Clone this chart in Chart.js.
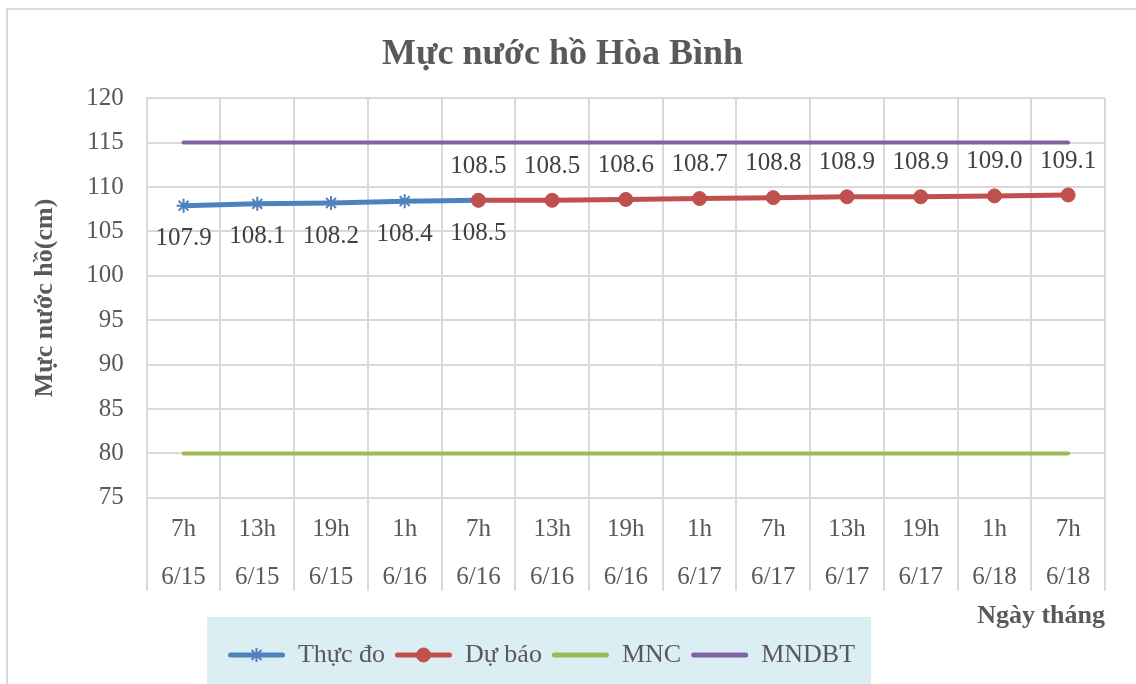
<!DOCTYPE html>
<html lang="vi">
<head>
<meta charset="UTF-8">
<title>Mực nước hồ Hòa Bình</title>
<style>
    * { margin: 0; padding: 0; box-sizing: border-box; }
    body { background: #ffffff; width: 1136px; height: 684px; overflow: hidden; }
    .wrap { position: relative; width: 1136px; height: 684px; }
</style>
</head>
<body>
<div class="wrap"><canvas id="chart" width="1136" height="684"></canvas></div>

<script src="https://cdn.jsdelivr.net/npm/chart.js"></script>
<script>
    // data
    const hours = ['7h', '13h', '19h', '1h', '7h', '13h', '19h', '1h', '7h', '13h', '19h', '1h', '7h'];
    const days = ['6/15', '6/15', '6/15', '6/16', '6/16', '6/16', '6/16', '6/17', '6/17', '6/17', '6/17', '6/18', '6/18'];
    const thucDo = [107.9, 108.1, 108.2, 108.4, 108.5, null, null, null, null, null, null, null, null];
    const duBao = [null, null, null, null, 108.5, 108.5, 108.6, 108.7, 108.8, 108.9, 108.9, 109.0, 109.1];
    const mnc = [80, 80, 80, 80, 80, 80, 80, 80, 80, 80, 80, 80, 80];
    const mndbt = [115, 115, 115, 115, 115, 115, 115, 115, 115, 115, 115, 115, 115];
    const yMin = 75, yMax = 120, yStep = 5;

    const labels = hours.map((h, i) => [h, days[i]]);
    const SERIF = '"Liberation Serif", "Times New Roman", serif';
    const GRID = '#D9D9D9';
    const TEXT = '#595959';

    // white page + thin outer frame + legend background
    const framePlugin = {
        id: 'frame',
        afterLayout(chart) {
            // legend sits a little left of centre in the original
            if (chart.legend) { chart.legend.left -= 21; chart.legend.right -= 21; }
        },
        beforeDraw(chart) {
            const ctx = chart.ctx;
            ctx.save();
            ctx.fillStyle = '#ffffff';
            ctx.fillRect(0, 0, chart.width, chart.height);
            ctx.strokeStyle = GRID;
            ctx.lineWidth = 2;
            ctx.strokeRect(7, 9, chart.width + 20, chart.height + 20);

            const lg = chart.legend;
            if (lg && lg.legendHitBoxes && lg.legendHitBoxes.length) {
                const boxes = lg.legendHitBoxes;
                const first = boxes[0], last = boxes[boxes.length - 1];
                const cy = first.top + first.height / 2;
                ctx.fillStyle = '#DAEEF3';
                ctx.fillRect(first.left - 21, cy - 38, last.left + last.width - first.left + 37, chart.height);
            }
            ctx.restore();
        },
        // category separators run down through the label area
        beforeDatasetsDraw(chart) {
            const xs = chart.scales.x;
            const ctx = chart.ctx;
            ctx.save();
            ctx.strokeStyle = GRID;
            ctx.lineWidth = 2;
            ctx.beginPath();
            for (let i = 0; i <= chart.data.labels.length; i++) {
                const x = Math.round(xs.getPixelForValue(i - 0.5));
                ctx.moveTo(x, xs.top);
                ctx.lineTo(x, xs.top + 93);
            }
            ctx.stroke();
            ctx.restore();
        }
    };

    // value labels: below for measured, above for forecast
    const valueLabels = {
        id: 'valueLabels',
        afterDatasetsDraw(chart) {
            const ctx = chart.ctx;
            ctx.save();
            ctx.font = '25px ' + SERIF;
            ctx.fillStyle = '#404040';
            ctx.textAlign = 'center';
            ctx.textBaseline = 'middle';
            [[0, 33], [1, -34]].forEach(([di, dy]) => {
                const meta = chart.getDatasetMeta(di);
                const vals = chart.data.datasets[di].data;
                meta.data.forEach((pt, i) => {
                    if (vals[i] === null) return;
                    ctx.fillText(vals[i].toFixed(1), pt.x, pt.y + dy);
                });
            });
            ctx.restore();
        }
    };

    // markers on the legend line samples
    const legendMarkers = {
        id: 'legendMarkers',
        afterDraw(chart) {
            const lg = chart.legend;
            if (!lg || !lg.legendHitBoxes) return;
            const ctx = chart.ctx;
            lg.legendItems.forEach((item, i) => {
                const ds = chart.data.datasets[item.datasetIndex];
                const hb = lg.legendHitBoxes[i];
                if (!ds.pointRadius) return;
                ctx.save();
                ctx.fillStyle = ds.pointBackgroundColor;
                ctx.strokeStyle = ds.pointBorderColor;
                ctx.lineWidth = ds.pointBorderWidth;
                Chart.helpers.drawPoint(ctx, {
                    pointStyle: ds.pointStyle, radius: ds.pointRadius,
                    borderWidth: ds.pointBorderWidth, rotation: 0
                }, hb.left + lg.options.labels.boxWidth / 2, hb.top + hb.height / 2);
                ctx.restore();
            });
        }
    };

    new Chart(document.getElementById('chart'), {
        type: 'line',
        data: {
            labels: labels,
            datasets: [
                {
                    label: 'Thực đo', data: thucDo, order: 1,
                    borderColor: '#4F81BD', borderWidth: 5, borderCapStyle: 'round',
                    pointStyle: 'star', pointRadius: 7, pointBorderWidth: 2,
                    pointBorderColor: '#4F81BD', pointBackgroundColor: '#4F81BD'
                },
                {
                    label: 'Dự báo', data: duBao, order: 0,
                    borderColor: '#C0504D', borderWidth: 5, borderCapStyle: 'round',
                    pointStyle: 'circle', pointRadius: 7, pointBorderWidth: 1,
                    pointBorderColor: '#C0504D', pointBackgroundColor: '#C0504D'
                },
                {
                    label: 'MNC', data: mnc, order: 2,
                    borderColor: '#9BBB59', borderWidth: 4, borderCapStyle: 'round', pointRadius: 0
                },
                {
                    label: 'MNDBT', data: mndbt, order: 3,
                    borderColor: '#8064A2', borderWidth: 4, borderCapStyle: 'round', pointRadius: 0
                }
            ]
        },
        options: {
            responsive: false,
            animation: false,
            layout: { padding: { top: 10, left: 20, right: 31, bottom: 6 } },
            plugins: {
                title: {
                    display: true,
                    text: 'Mực nước hồ Hòa Bình',
                    color: TEXT,
                    font: { family: SERIF, size: 36, weight: 'bold' },
                    padding: { top: 23, bottom: 22 }
                },
                legend: {
                    position: 'bottom',
                    labels: {
                        color: TEXT,
                        font: { family: SERIF, size: 26 },
                        boxWidth: 57,
                        boxHeight: 5,
                        padding: 10,
                        useBorderRadius: true,
                        borderRadius: 2.5,
                        sort: (a, b) => a.datasetIndex - b.datasetIndex,
                        generateLabels(chart) {
                            const items = Chart.defaults.plugins.legend.labels.generateLabels(chart);
                            items.forEach(it => {
                                const ds = chart.data.datasets[it.datasetIndex];
                                it.fillStyle = ds.borderColor;
                                it.strokeStyle = ds.borderColor;
                                it.lineWidth = 0;
                                it.borderRadius = 2.5;
                            });
                            return items;
                        }
                    }
                },
                tooltip: { enabled: false }
            },
            scales: {
                x: {
                    offset: true,
                    grid: { offset: true, color: GRID, lineWidth: 2, drawTicks: false },
                    border: { color: GRID, width: 2 },
                    ticks: {
                        color: TEXT, autoSkip: false, maxRotation: 0, padding: 8,
                        font: { family: SERIF, size: 25, lineHeight: 1.92 }
                    },
                    title: {
                        display: true, text: 'Ngày tháng', align: 'end', color: TEXT,
                        font: { family: SERIF, size: 26, weight: 'bold' },
                        padding: { top: -9, bottom: 0 }
                    }
                },
                y: {
                    min: yMin, max: yMax,
                    grid: { color: GRID, lineWidth: 2, drawTicks: false },
                    border: { color: GRID, width: 2 },
                    ticks: {
                        stepSize: yStep, color: TEXT, padding: 23,
                        font: { family: SERIF, size: 25 }
                    },
                    title: {
                        display: true, text: 'Mực nước hồ(cm)', color: TEXT,
                        font: { family: SERIF, size: 26, weight: 'bold' },
                        padding: { top: 10, bottom: 2 }
                    }
                }
            }
        },
        plugins: [framePlugin, valueLabels, legendMarkers]
    });
</script>
</body>
</html>
